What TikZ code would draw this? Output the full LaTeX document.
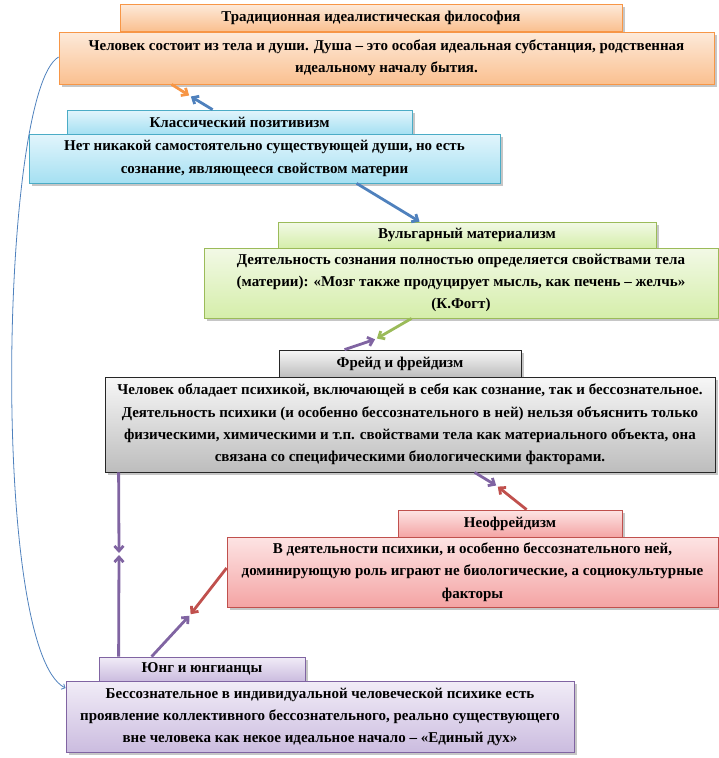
\documentclass[tikz,border=0pt]{standalone}
\usepackage{fontspec}
\setmainfont{Liberation Serif}
\usetikzlibrary{arrows.meta,shadows}

\definecolor{orBorder}{HTML}{F79646}
\definecolor{orTop}{HTML}{FDEADA}
\definecolor{orBot}{HTML}{FAC090}
\definecolor{blBorder}{HTML}{4BACC6}
\definecolor{blTop}{HTML}{E2F5FC}
\definecolor{blBot}{HTML}{A5E0F2}
\definecolor{blArrow}{HTML}{4F81BD}
\definecolor{grBorder}{HTML}{9BBB59}
\definecolor{grTop}{HTML}{F2F9E6}
\definecolor{grBot}{HTML}{D5EEAA}
\definecolor{gyBorder}{HTML}{262626}
\definecolor{gyTop}{HTML}{F7F7F7}
\definecolor{gyBot}{HTML}{BDBDBD}
\definecolor{rdBorder}{HTML}{C0504D}
\definecolor{rdTop}{HTML}{FDE4E4}
\definecolor{rdBot}{HTML}{F4A4A4}
\definecolor{ppBorder}{HTML}{8064A2}
\definecolor{ppTop}{HTML}{F1ECF7}
\definecolor{ppBot}{HTML}{CBBCDF}

\begin{document}
\begin{tikzpicture}[x=1pt, y=-1pt,
    box/.style n args={3}{draw=#1, line width=0.8pt, top color=#2, bottom color=#3,
        drop shadow={shadow xshift=2.5pt, shadow yshift=-2.5pt, opacity=0.45, fill=black!50},
        align=center, inner sep=0pt, font=\fontsize{15}{22.3}\selectfont\bfseries},
    arr/.style={-{Straight Barb[length=5pt,width=9pt]}, line width=2.8pt, draw=#1}]
    \useasboundingbox (0,0) rectangle (719,758);

    % Traditional idealism
    \node[box={orBorder}{orTop}{orBot}, minimum width=502pt, minimum height=27pt] (title1) at (371,17.5)
        {Традиционная идеалистическая философия};
    \node[box={orBorder}{orTop}{orBot}, minimum width=655pt, minimum height=52pt] (body1) at (386.5,58)
        {Человек состоит из тела и души. Душа  – это особая идеальная субстанция, родственная\\идеальному началу бытия.};

    % Classical positivism
    \node[box={blBorder}{blTop}{blBot}, minimum width=345pt, minimum height=24pt] (title2) at (239.5,122)
        {Классический позитивизм};
    \node[box={blBorder}{blTop}{blBot}, minimum width=471pt, minimum height=49pt] (body2) at (264.5,158.5)
        {Нет никакой самостоятельно существующей  души, но есть\\сознание, являющееся свойством материи};

    % Vulgar materialism
    \node[box={grBorder}{grTop}{grBot}, minimum width=378pt, minimum height=26pt] (title3) at (467,235)
        {Вульгарный материализм};
    \node[box={grBorder}{grTop}{grBot}, minimum width=514pt, minimum height=70pt] (body3) at (461,283)
        {Деятельность сознания полностью определяется свойствами тела\\(материи): «Мозг также продуцирует мысль, как печень – желчь»\\(К.Фогт)};

    % Freud
    \node[box={gyBorder}{gyTop}{gyBot}, minimum width=242pt, minimum height=27pt] (title4) at (400,363.5)
        {Фрейд и фрейдизм};
    \node[box={gyBorder}{gyTop}{gyBot}, minimum width=610pt, minimum height=95pt] (body4) at (410,424.5)
        {Человек обладает психикой, включающей в себя как сознание, так и бессознательное.\\Деятельность психики (и особенно бессознательного в ней) нельзя объяснить только\\физическими, химическими и т.п. свойствами тела как материального объекта, она\\связана со специфическими биологическими факторами.};

    % Neo-Freudianism
    \node[box={rdBorder}{rdTop}{rdBot}, minimum width=224pt, minimum height=27pt] (title5) at (510,523.5)
        {Неофрейдизм};
    \node[box={rdBorder}{rdTop}{rdBot}, minimum width=491pt, minimum height=70pt] (body5) at (472.5,572)
        {В деятельности психики, и особенно бессознательного  ней,\\доминирующую роль играют не биологические, а социокультурные\\факторы};

    % Jung
    \node[box={ppBorder}{ppTop}{ppBot}, minimum width=206pt, minimum height=24pt] (title6) at (202,669)
        {Юнг и юнгианцы};
    \node[box={ppBorder}{ppTop}{ppBot}, minimum width=508pt, minimum height=71pt] (body6) at (320,717)
        {Бессознательное в индивидуальной человеческой психике есть\\проявление коллективного бессознательного, реально существующего\\вне человека как некое идеальное начало – «Единый дух»};

    % meeting points
    \coordinate (j1) at (190,96);
    \coordinate (j2) at (376,339);
    \coordinate (j3) at (497,486);
    \coordinate (j4) at (190,615);
    \coordinate (j5) at (119,554);

    \draw[arr=orBorder, shorten >=1pt] ([xshift=113pt]body1.south west) -- (j1);
    \draw[arr=blArrow, shorten >=1pt] ([xshift=146pt]title2.north west) -- (j1);
    \draw[arr=blArrow] ([xshift=328pt]body2.south west) -- ([xshift=142pt]title3.north west);
    \draw[arr=grBorder, shorten >=1pt] ([xshift=208pt]body3.south west) -- (j2);
    \draw[arr=ppBorder, shorten >=1pt] ([xshift=66pt]title4.north west) -- (j2);
    \draw[arr=ppBorder, shorten >=1pt] ([xshift=370pt]body4.south west) -- (j3);
    \draw[arr=rdBorder, shorten >=1pt] ([xshift=129pt]title5.north west) -- (j3);
    \draw[arr=rdBorder, shorten >=1pt] ([yshift=4pt]body5.west) -- (j4);
    \draw[arr=ppBorder, shorten >=1pt] ([xshift=53pt]title6.north west) -- (j4);
    \draw[arr=ppBorder, shorten >=1pt] ([xshift=14pt]body4.south west) -- (j5);
    \draw[arr=ppBorder, shorten >=1pt] ([xshift=20pt]title6.north west) -- (j5);

    % back link to the idealist start
    \draw[blArrow, line width=0.8pt, -{Straight Barb[length=3pt,width=6pt]}]
        ([yshift=1pt]body1.west) .. controls (0,90) and (-10,650) .. ([yshift=-7pt]body6.north west);
\end{tikzpicture}
\end{document}
